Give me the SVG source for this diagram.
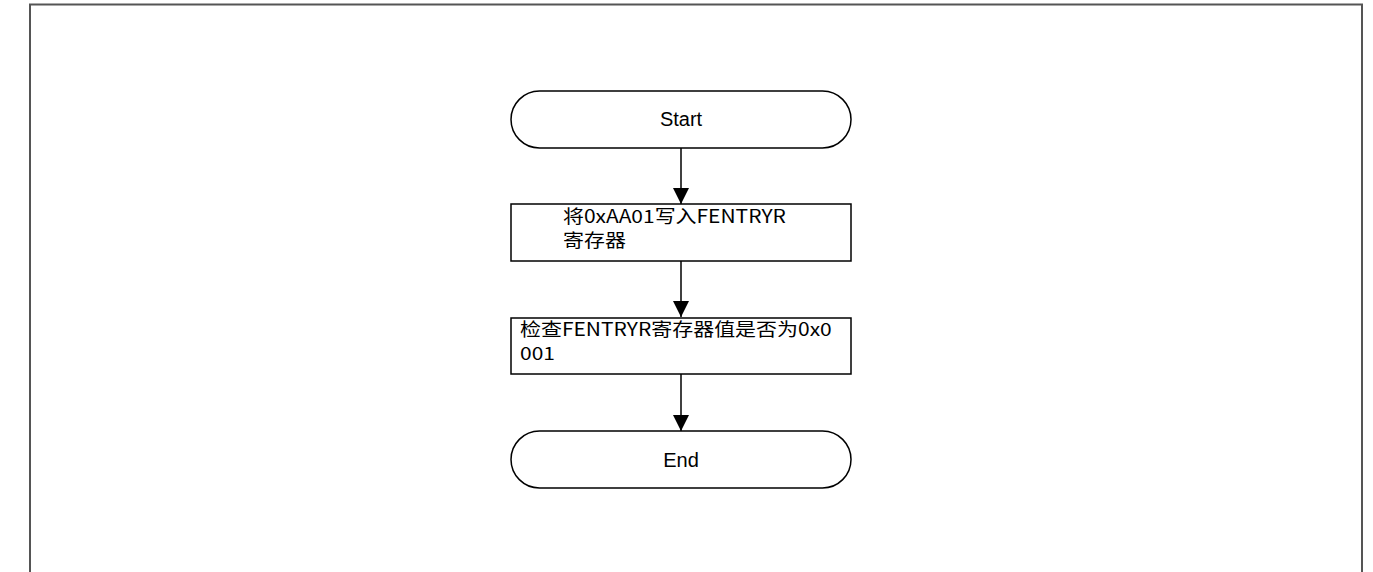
<svg xmlns="http://www.w3.org/2000/svg" width="1373" height="572" viewBox="0 0 1373 572">
<style>
.shape{fill:#fff;stroke:#000;stroke-width:1.5}
.edge{stroke:#000;stroke-width:1.5;fill:none}
.lat{font-family:"Liberation Sans",Arial,sans-serif;font-size:20px;fill:#000}
.cjk{font-family:"Noto Sans CJK SC","Noto Sans",sans-serif;font-size:18px;fill:#000}
</style>
<defs>
<marker id="arr" markerWidth="16" markerHeight="16" refX="16" refY="8" orient="auto" markerUnits="userSpaceOnUse" viewBox="0 0 16 16">
<path d="M0,0 L16,8 L0,16 Z" fill="#000"/>
</marker>
</defs>
<rect x="0" y="0" width="1373" height="572" fill="#fff"/>
<path d="M30,580 L30,4.5 L1362,4.5 L1362,580" fill="none" stroke="#555" stroke-width="2"/>
<g id="connectors">
<path class="edge" d="M681,148 V204" marker-end="url(#arr)"/>
<path class="edge" d="M681,261 V317" marker-end="url(#arr)"/>
<path class="edge" d="M681,374 V431" marker-end="url(#arr)"/>
</g>
<g id="start">
<rect class="shape" x="511" y="91" width="340" height="57" rx="28.5"/>
<text class="lat" x="681" y="126" text-anchor="middle">Start</text>
</g>
<g id="write">
<rect class="shape" x="511" y="204" width="340" height="57"/>
<text class="cjk" transform="translate(563,223) scale(1.165,1)">将0xAA01写入FENTRYR</text>
<text class="cjk" transform="translate(563,247) scale(1.165,1)">寄存器</text>
</g>
<g id="check">
<rect class="shape" x="511" y="318" width="340" height="56"/>
<text class="cjk" transform="translate(520,336) scale(1.165,1)">检查FENTRYR寄存器值是否为0x0</text>
<text class="cjk" transform="translate(520,360) scale(1.165,1)">001</text>
</g>
<g id="end">
<rect class="shape" x="511" y="431" width="340" height="57" rx="28.5"/>
<text class="lat" x="681" y="467" text-anchor="middle">End</text>
</g>
</svg>
